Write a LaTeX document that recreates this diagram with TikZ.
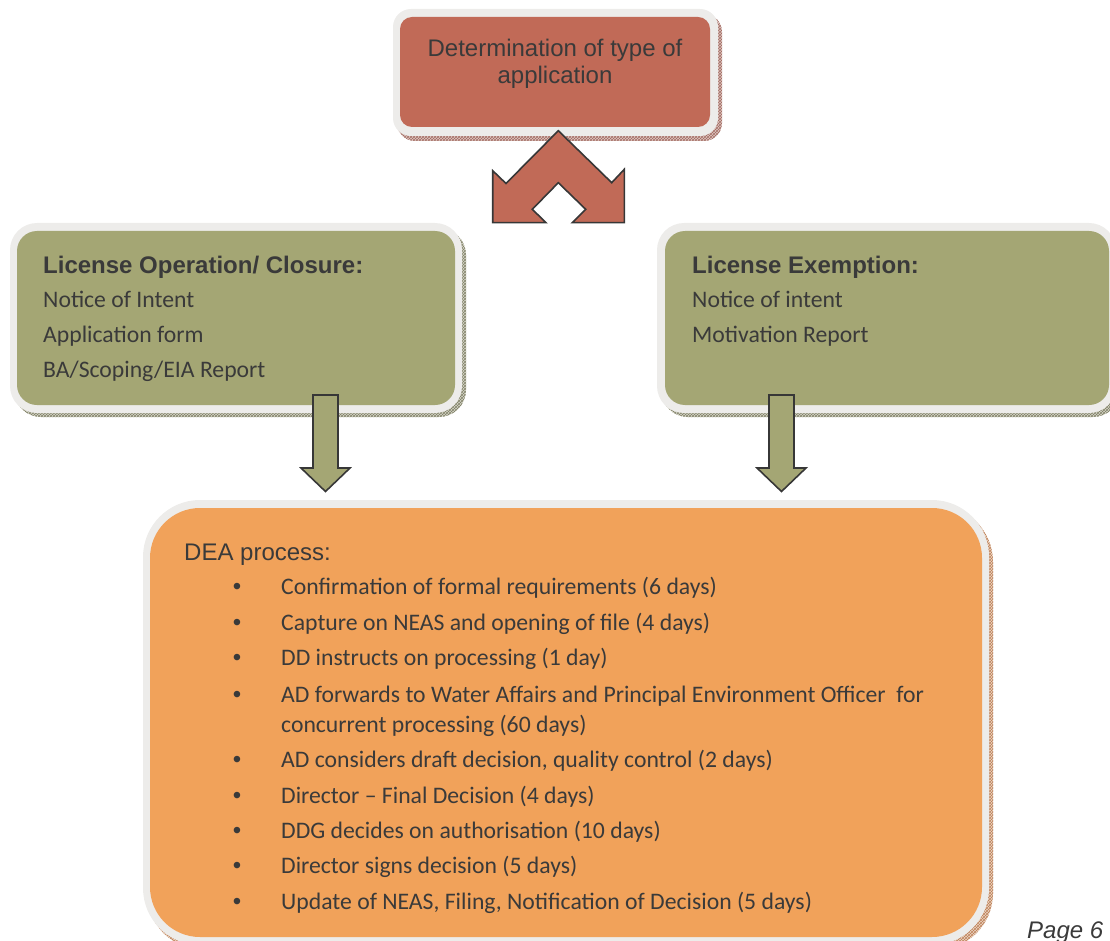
\documentclass[tikz,border=0pt]{standalone}
\usepackage{fontspec}
\setmainfont{Carlito}
\newfontfamily\arialfont{Liberation Sans}
\usetikzlibrary{patterns}
\definecolor{redbox}{RGB}{193,106,87}
\definecolor{greenbox}{RGB}{164,166,116}
\definecolor{orangebox}{RGB}{241,162,90}
\definecolor{rimcol}{RGB}{237,236,234}
\definecolor{txt}{RGB}{58,58,58}
\definecolor{edgecol}{RGB}{55,55,55}
\definecolor{redshadow}{RGB}{222,200,196}
\definecolor{redhatch}{RGB}{165,110,100}
\definecolor{greenshadow}{RGB}{214,214,200}
\definecolor{greenhatch}{RGB}{130,130,105}
\definecolor{orangeshadow}{RGB}{236,214,196}
\definecolor{orangehatch}{RGB}{190,130,90}
\begin{document}
\begin{tikzpicture}[x=1pt,y=-1pt,
  every node/.style={inner sep=0pt, text=txt},
  rimbox/.style={fill=rimcol, rounded corners=#1},
  innerbox/.style={rounded corners=#1},
  blockarrow/.style={draw=edgecol, line width=1.6pt, line join=miter},
  arialtext/.style={font=\arialfont\fontsize{24}{28}\selectfont},
  arialbold/.style={font=\arialfont\bfseries\fontsize{24}{28}\selectfont},
  caltext/.style={font=\fontsize{23.7}{28}\selectfont},
  bullettext/.style={font=\arialfont\fontsize{24}{28}\selectfont}]
\useasboundingbox (0,0) rectangle (1110,941);
\clip (0,0) rectangle (1110,941);

% ---------- top box ----------
\fill[redshadow, rounded corners=18pt] (397,14) rectangle (722,141);
\fill[pattern=crosshatch, pattern color=redhatch, rounded corners=18pt] (397,14) rectangle (722,141);
\fill[rimbox=18pt] (393,9) rectangle (718,136);
\fill[redbox, innerbox=12pt] (400,17) rectangle (710,127);
\node[arialtext, anchor=base] (top1) at (555,57) {Determination of type of};
\node[arialtext, anchor=base] (top2) at (555,84) {application};

% ---------- left green box ----------
\fill[greenshadow, rounded corners=27pt] (14,228) rectangle (466,417);
\fill[pattern=crosshatch, pattern color=greenhatch, rounded corners=27pt] (14,228) rectangle (466,417);
\fill[rimbox=27pt] (10,223) rectangle (462,413);
\fill[greenbox, innerbox=20pt] (17,231) rectangle (455,405);
\node[arialbold, anchor=base west] (lt) at (43,273) {License Operation/ Closure:};
\node[caltext, anchor=base west] (l1) at (43,307) {Notice of Intent};
\node[caltext, anchor=base west] (l2) at (43,342) {Application form};
\node[caltext, anchor=base west] (l3) at (43,377) {BA/Scoping/EIA Report};

% ---------- right green box ----------
\fill[greenshadow, rounded corners=27pt] (661,228) rectangle (1120,417);
\fill[pattern=crosshatch, pattern color=greenhatch, rounded corners=27pt] (661,228) rectangle (1120,417);
\fill[rimbox=27pt] (657,223) rectangle (1116,413);
\fill[greenbox, innerbox=20pt] (665,231) rectangle (1109,405);
\node[arialbold, anchor=base west] (rt) at (692,273) {License Exemption:};
\node[caltext, anchor=base west] (r1) at (692,307) {Notice of intent};
\node[caltext, anchor=base west] (r2) at (692,342) {Motivation Report};

% ---------- orange box ----------
\fill[orangeshadow, rounded corners=57pt] (147,505) rectangle (993,950);
\fill[pattern=crosshatch, pattern color=orangehatch, rounded corners=57pt] (147,505) rectangle (993,950);
\fill[rimbox=57pt] (143,500) rectangle (989,945);
\fill[orangebox, innerbox=50pt] (150,508) rectangle (982,937);
\node[arialtext, anchor=base west] (dea) at (184,560) {DEA process:};

\foreach \y/\t [count=\i] in {
  594/{Confirmation of formal requirements (6 days)},
  630/{Capture on NEAS and opening of file (4 days)},
  665/{DD instructs on processing (1 day)},
  702/{AD forwards to Water Affairs and Principal Environment Officer\ \ for},
  767/{AD considers draft decision, quality control (2 days)},
  803/{Director – Final Decision (4 days)},
  838/{DDG decides on authorisation (10 days)},
  873/{Director signs decision (5 days)},
  909/{Update of NEAS, Filing, Notification of Decision (5 days)}} {
  \node[bullettext, anchor=base] (b\i) at (237,\y) {•};
  \node[caltext, anchor=base west] (s\i) at (281,\y) {\t};
}
\node[caltext, anchor=base west] (s4b) at (281,732) {concurrent processing (60 days)};

% ---------- block arrows ----------
\draw[blockarrow, fill=redbox]
  (558.3,130.7) -- (611.7,182.7) -- (624.3,169.3) -- (624.3,222.7) -- (572.3,222.7)
  -- (585.7,209.3) -- (558.3,182.7) -- (532.3,209.3) -- (546,222.7) -- (492.7,222.7)
  -- (492.7,170.7) -- (506,183.5) -- cycle;

\draw[blockarrow, fill=greenbox]
  (313,395) -- (338,395) -- (338,468) -- (350,468) -- (325.5,491.5) -- (301,468) -- (313,468) -- cycle;
\draw[blockarrow, fill=greenbox]
  (769,395) -- (794,395) -- (794,468) -- (806,468) -- (781.5,491.5) -- (757,468) -- (769,468) -- cycle;

% ---------- page number ----------
\node[font=\arialfont\itshape\fontsize{24}{28}\selectfont, anchor=base west] (page) at (1027,938) {Page 6};
\end{tikzpicture}
\end{document}
